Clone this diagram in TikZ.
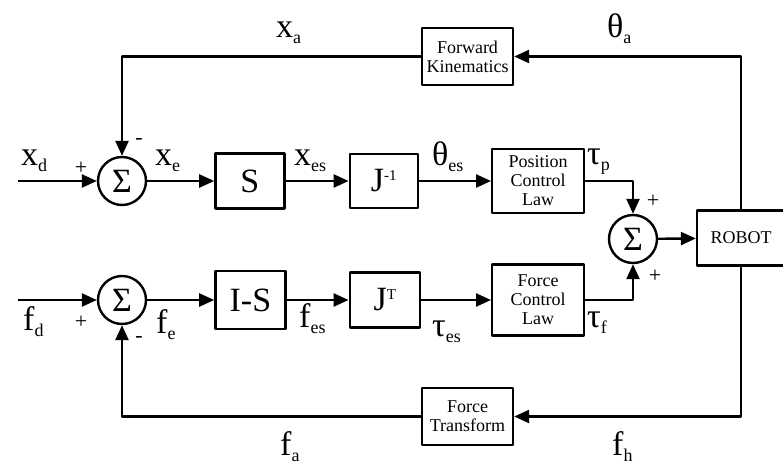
\documentclass[tikz,border=0pt]{standalone}
\usepackage{fontspec}
\setmainfont{Liberation Serif}
\usetikzlibrary{arrows.meta,positioning}

% signal name with lowered index
\newcommand{\sgn}[2]{\fontsize{34}{34}\selectfont #1\fontsize{18}{18}\selectfont\raisebox{-6pt}{#2}}
\newcommand{\supx}[1]{\fontsize{15}{15}\selectfont\raisebox{11pt}{#1}}

\begin{document}
\begin{tikzpicture}[x=1pt,y=-1pt,line join=round,
  blk/.style={draw,line width=2.4pt,inner sep=0pt,align=center,font=\fontsize{18}{19}\selectfont},
  bigblk/.style={draw,line width=2.4pt,inner sep=0pt,font=\fontsize{34}{34}\selectfont},
  sumnode/.style={draw,circle,line width=2.4pt,minimum size=48pt,inner sep=0pt,font=\fontsize{34}{34}\selectfont},
  sig/.style={-{Triangle[length=15pt,width=13pt]},line width=2.4pt},
  lbl/.style={inner sep=0pt,anchor=base west},
  pm/.style={inner sep=0pt,font=\fontsize{22}{22}\selectfont}]
\useasboundingbox (0,0) rectangle (783,468);
\clip (0,0) rectangle (783,468);
% position row
\node[sumnode] (s1) at (122,181) {Σ};
\node[bigblk,minimum width=69pt,minimum height=55pt,right=67pt of s1] (sel) {S};
\node[bigblk,minimum width=68pt,minimum height=54pt,right=63pt of sel] (jinv) {J\supx{-1}};
\node[blk,minimum width=92pt,minimum height=64pt,right=72pt of jinv] (pos) {Position\\Control\\Law};
% force row
\node[sumnode] (s2) at (122,300) {Σ};
\node[bigblk,minimum width=70pt,minimum height=58pt,right=67pt of s2] (isel) {I-S};
\node[bigblk,minimum width=70pt,minimum height=55pt,right=62pt of isel] (jtr) {J\supx{T}};
\node[blk,minimum width=92pt,minimum height=71pt,right=70pt of jtr] (frc) {Force\\Control\\Law};
% robot and feedback blocks
\node[sumnode] (s3) at (633,239) {Σ};
\node[blk,minimum width=88pt,minimum height=55pt] (rob) at (741,238) {ROBOT};
\node[blk,minimum width=91pt,minimum height=57pt] (fk) at (467.5,56.5) {Forward\\Kinematics};
\node[blk,minimum width=91pt,minimum height=57pt] (ft) at (467.5,416.5) {Force\\Transform};
\coordinate (xin) at (18,181);
\coordinate (fin) at (18,300);
% connectors
\draw[sig] (xin)--(s1);\draw[sig] (s1)--(sel);\draw[sig] (sel)--(jinv);\draw[sig] (jinv)--(pos);
\draw[sig] (fin)--(s2);\draw[sig] (s2)--(isel);\draw[sig] (isel)--(jtr);\draw[sig] (jtr)--(frc);
\draw[sig] (pos.east) -| (s3.north);
\draw[sig] (frc.east) -| (s3.south);
\draw[sig] (s3)--(rob);
\draw[sig] (rob.north) |- (fk.east);
\draw[sig] (fk.west) -| (s1.north);
\draw[sig] (rob.south) |- (ft.east);
\draw[sig] (ft.west) -| (s2.south);
% labels
\node[lbl] (lxd) at (21,165) {\sgn{x}{d}};
\node[lbl] (lxe) at (155,165) {\sgn{x}{e}};
\node[lbl] (lxes) at (294,165) {\sgn{x}{es}};
\node[lbl] (lthes) at (432,165) {\sgn{θ}{es}};
\node[lbl] (ltp) at (587,164) {\sgn{τ}{p}};
\node[lbl] (lxa) at (276,38) {\sgn{x}{a}};
\node[lbl] (ltha) at (607,38) {\sgn{θ}{a}};
\node[lbl] (lfd) at (23,330) {\sgn{f}{d}};
\node[lbl] (lfe) at (156,333) {\sgn{f}{e}};
\node[lbl] (lfes) at (299,327) {\sgn{f}{es}};
\node[lbl] (ltes) at (432,336) {\sgn{τ}{es}};
\node[lbl] (ltf) at (587,327) {\sgn{τ}{f}};
\node[lbl] (lfa) at (280,455) {\sgn{f}{a}};
\node[lbl] (lfh) at (612,455) {\sgn{f}{h}};
\node[pm] (p1) at (81,168) {+};
\node[pm] (m1) at (139,141) {-};
\node[pm] (p2) at (81,322) {+};
\node[pm] (m2) at (139,339) {-};
\node[pm] (p3) at (653,201) {+};
\node[pm] (p4) at (655,276) {+};
\end{tikzpicture}
\end{document}
